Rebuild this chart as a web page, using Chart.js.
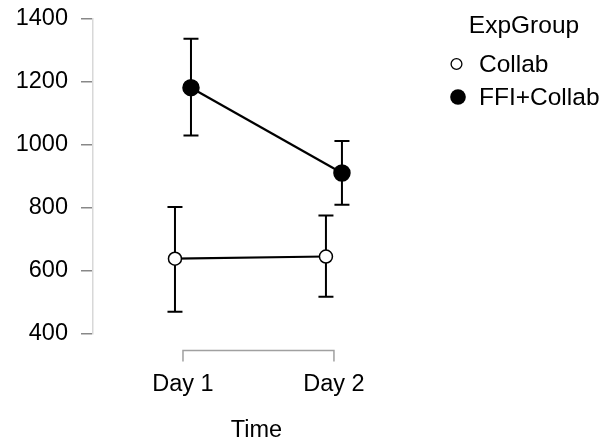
<!DOCTYPE html>
<html>
<head>
<meta charset="utf-8">
<script src="https://cdn.jsdelivr.net/npm/chart.js@4/dist/chart.umd.min.js"></script>
<style>
  html, body { margin: 0; padding: 0; background: #fff; }
  #wrap { width: 605px; height: 443px; position: relative; }
</style>
</head>
<body>
<div id="wrap"><canvas id="c" width="605" height="443"></canvas></div>
<script>
// Time points and group summaries (means with interval bounds)
const timeLabels = ['Day 1', 'Day 2'];
const groupNames = ['Collab', 'FFI+Collab'];
const collabMean  = [639, 646];
const collabLower = [471, 518];
const collabUpper = [803, 776];
const ffiMean  = [1182, 911];
const ffiLower = [1030, 810];
const ffiUpper = [1337, 1013];
const yTicks = [400, 600, 800, 1000, 1200, 1400];

const FONT = "'Liberation Sans', Arial, sans-serif";
const FSIZE = 23.5;
const LEGEND_FSIZE = 24.5;
const DODGE = 0.053; // horizontal separation of the two groups, in axis units

function pts(means, shift) {
  return means.map((m, i) => ({ x: i + 1 + shift, y: m }));
}

const groups = [
  { name: groupNames[0], mean: collabMean, lo: collabLower, hi: collabUpper, shift: -DODGE, fill: '#ffffff', r: 6.5 },
  { name: groupNames[1], mean: ffiMean, lo: ffiLower, hi: ffiUpper, shift: DODGE, fill: '#000000', r: 8 }
];

// Interval bars drawn underneath the points
const errorBars = {
  id: 'errorBars',
  beforeDatasetsDraw(chart) {
    const { ctx, scales: { x, y } } = chart;
    ctx.save();
    ctx.strokeStyle = '#000';
    ctx.lineWidth = 2;
    groups.forEach(g => {
      g.mean.forEach((m, i) => {
        const px = x.getPixelForValue(i + 1 + g.shift);
        const top = y.getPixelForValue(g.hi[i]);
        const bot = y.getPixelForValue(g.lo[i]);
        ctx.beginPath();
        ctx.moveTo(px, top); ctx.lineTo(px, bot);
        ctx.moveTo(px - 7.5, top); ctx.lineTo(px + 7.5, top);
        ctx.moveTo(px - 7.5, bot); ctx.lineTo(px + 7.5, bot);
        ctx.stroke();
      });
    });
    ctx.restore();
  }
};

// Offset x-axis bracket spanning the two time points
const xBracket = {
  id: 'xBracket',
  afterDraw(chart) {
    const { ctx, chartArea, scales: { x } } = chart;
    const x1 = x.getPixelForValue(1), x2 = x.getPixelForValue(2);
    const yl = chartArea.bottom + 16.5;
    ctx.save();
    ctx.strokeStyle = '#a0a0a0';
    ctx.lineWidth = 1.5;
    ctx.beginPath();
    ctx.moveTo(x1, yl + 11); ctx.lineTo(x1, yl); ctx.lineTo(x2, yl); ctx.lineTo(x2, yl + 11);
    ctx.stroke();
    ctx.restore();
  }
};

// Group legend at the top right
const groupLegend = {
  id: 'groupLegend',
  afterDraw(chart) {
    const { ctx } = chart;
    ctx.save();
    ctx.fillStyle = '#000';
    ctx.font = LEGEND_FSIZE + 'px ' + FONT;
    ctx.textBaseline = 'middle';
    ctx.textAlign = 'center';
    ctx.fillText('ExpGroup', 524, 26);
    ctx.textAlign = 'left';
    groups.forEach((g, i) => {
      const cy = 64 + i * 33;
      ctx.beginPath();
      if (g.fill === '#ffffff') {
        ctx.arc(456.5, cy, 5.4, 0, Math.PI * 2);
        ctx.fillStyle = '#fff'; ctx.fill();
        ctx.lineWidth = 1.3; ctx.strokeStyle = '#000'; ctx.stroke();
      } else {
        ctx.arc(458, cy, 7.8, 0, Math.PI * 2);
        ctx.fillStyle = '#000'; ctx.fill();
      }
      ctx.fillStyle = '#000';
      ctx.fillText(g.name, 479, cy + 1);
    });
    ctx.restore();
  }
};

new Chart(document.getElementById('c'), {
  type: 'line',
  data: {
    datasets: groups.map(g => ({
      label: g.name,
      data: pts(g.mean, g.shift),
      borderColor: '#000',
      borderWidth: 2.2,
      backgroundColor: g.fill,
      pointBackgroundColor: g.fill,
      pointBorderColor: '#000',
      pointBorderWidth: 1.5,
      pointRadius: g.r,
      pointHoverRadius: g.r,
      tension: 0
    }))
  },
  options: {
    responsive: false,
    animation: false,
    events: [],
    layout: { padding: { top: 0, right: 185, bottom: 0, left: 0 } },
    plugins: { legend: { display: false }, tooltip: { enabled: false } },
    scales: {
      x: {
        type: 'linear',
        min: 0.404,
        max: 2.570,
        afterBuildTicks: s => { s.ticks = timeLabels.map((_, i) => ({ value: i + 1 })); },
        afterFit: s => { s.height = 109; },
        grid: { display: false, drawTicks: false },
        border: { display: false },
        ticks: {
          padding: 36,
          color: '#000',
          font: { family: FONT, size: FSIZE },
          callback: v => timeLabels[Math.round(v) - 1] || ''
        },
        title: { display: true, text: 'Time', color: '#000', font: { family: FONT, size: FSIZE }, padding: { top: 4, bottom: -2 } }
      },
      y: {
        min: 400,
        max: 1400,
        afterBuildTicks: s => { s.ticks = yTicks.map(v => ({ value: v })); },
        afterFit: s => { s.width = 93; s.paddingTop = 19; s.paddingBottom = 0; },
        grid: { drawOnChartArea: false, drawTicks: true, tickLength: 12, color: '#888', lineWidth: 1.5 },
        border: { display: true, color: '#d8d8d8', width: 1.5 },
        ticks: { padding: 13, color: '#000', font: { family: FONT, size: FSIZE }, callback: v => String(v) }
      }
    }
  },
  plugins: [errorBars, xBracket, groupLegend]
});
</script>
</body>
</html>
